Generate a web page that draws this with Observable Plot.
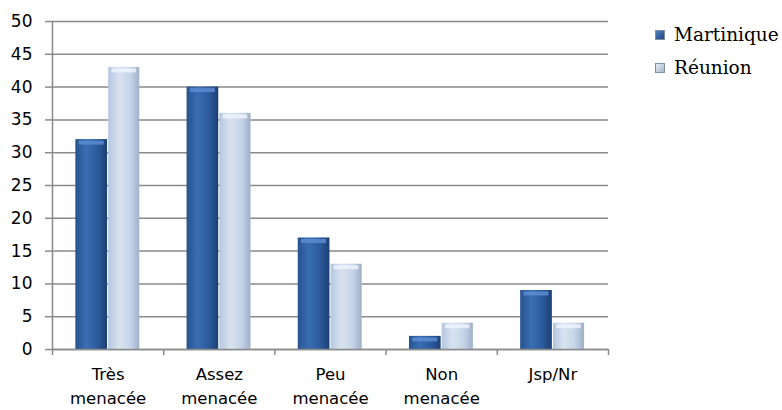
<!DOCTYPE html>
<html>
<head>
<meta charset="utf-8">
<script src="https://cdn.jsdelivr.net/npm/d3@7"></script>
<script src="https://cdn.jsdelivr.net/npm/@observablehq/plot@0.6"></script>
<style>
  html, body { margin: 0; padding: 0; background: #fff; }
  #wrap { position: relative; width: 782px; height: 410px; overflow: hidden; }
  #legend { position: absolute; left: 655px; top: 18px; font-family: "DejaVu Serif", serif; font-size: 18.5px; color: #000; }
  .item { display: flex; align-items: center; height: 33px; }
  .sw { width: 10px; height: 10px; margin-right: 9px; box-sizing: border-box; border: 1px solid #7f8ea3; }
</style>
</head>
<body>
<div id="wrap">
  <div id="chart"></div>
  <div id="legend"></div>
</div>
<script>
const categories = ["Très\nmenacée", "Assez\nmenacée", "Peu\nmenacée", "Non\nmenacée", "Jsp/Nr"];
const seriesNames = ["Martinique", "Réunion"];
const martinique = [32, 40, 17, 2, 9];
const reunion = [43, 36, 13, 4, 4];
const yTicks = [0, 5, 10, 15, 20, 25, 30, 35, 40, 45, 50];

const rows = categories.flatMap((c, i) => [
  {cat: c, i, series: "Martinique", value: martinique[i]},
  {cat: c, i, series: "Réunion", value: reunion[i]}
]);

// position of each series inside its category slot (fraction of the slot)
const slot = {"Martinique": [0.21, 0.495], "Réunion": [0.505, 0.785]};
const fills = {"Martinique": "url(#gM)", "Réunion": "url(#gR)"};
const tops = {"Martinique": "#5f8fd3", "Réunion": "#f1f5fb"};

function defs() {
  const ns = "http://www.w3.org/2000/svg";
  const d = document.createElementNS(ns, "defs");
  const make = (id, stops) => {
    const g = document.createElementNS(ns, "linearGradient");
    g.setAttribute("id", id);
    g.setAttribute("x1", "0"); g.setAttribute("x2", "1");
    g.setAttribute("y1", "0"); g.setAttribute("y2", "0");
    for (const [o, c] of stops) {
      const s = document.createElementNS(ns, "stop");
      s.setAttribute("offset", o); s.setAttribute("stop-color", c);
      g.appendChild(s);
    }
    d.appendChild(g);
  };
  make("gM", [["0", "#26538f"], ["0.35", "#3a6db3"], ["0.7", "#2c5b9c"], ["1", "#1c3f74"]]);
  make("gR", [["0", "#b4c6de"], ["0.35", "#d8e3f1"], ["0.7", "#c6d5e9"], ["1", "#9eb0c8"]]);
  return d;
}

const grid = "#8a8a8a";

const chart = Plot.plot({
  width: 782,
  height: 410,
  marginLeft: 52,
  marginRight: 174,
  marginTop: 21,
  marginBottom: 61,
  style: {fontFamily: "'DejaVu Sans', sans-serif", fontSize: "17px", color: "#000", background: "transparent", overflow: "visible"},
  x: {type: "linear", domain: [0, categories.length], axis: null},
  y: {domain: [0, 50], axis: null},
  marks: [
    defs,
    Plot.gridY(yTicks, {stroke: grid, strokeOpacity: 1, strokeWidth: 1.5}),
    Plot.rectY(rows, {
      x1: d => d.i + slot[d.series][0],
      x2: d => d.i + slot[d.series][1],
      y1: 0,
      y2: "value",
      fill: d => fills[d.series]
    }),
    Plot.ruleY(rows, {
      x1: d => d.i + slot[d.series][0] + 0.03,
      x2: d => d.i + slot[d.series][1] - 0.03,
      y: "value",
      dy: 3,
      stroke: d => tops[d.series],
      strokeWidth: 4,
      strokeOpacity: 0.8
    }),
    Plot.ruleX([0], {stroke: grid, strokeWidth: 1.5}),
    Plot.ruleY([0], {stroke: grid, strokeWidth: 1.5}),
    Plot.axisY({ticks: yTicks, tickSize: 7, tickPadding: 13, stroke: grid, strokeWidth: 1.5, label: null, fontSize: 17}),
    Plot.axisX({ticks: d3.range(0, categories.length + 1), tickSize: 6, tickFormat: () => "", stroke: grid, strokeWidth: 1.5, label: null}),
    Plot.text(categories, {
      x: (d, i) => i + 0.5,
      y: 0,
      text: d => d,
      dy: 14,
      lineAnchor: "top",
      lineHeight: 1.42,
      fontSize: 16.5,
      fill: "#000"
    })
  ]
});
document.getElementById("chart").appendChild(chart);

const legend = document.getElementById("legend");
const swatch = {"Martinique": "linear-gradient(135deg,#4f7fc2,#1f4680)", "Réunion": "linear-gradient(135deg,#e4ebf4,#a9b8cc)"};
for (const s of seriesNames) {
  const it = document.createElement("div");
  it.className = "item";
  const sw = document.createElement("span");
  sw.className = "sw";
  sw.style.background = swatch[s];
  const t = document.createElement("span");
  t.textContent = s;
  it.appendChild(sw); it.appendChild(t);
  legend.appendChild(it);
}
</script>
</body>
</html>
